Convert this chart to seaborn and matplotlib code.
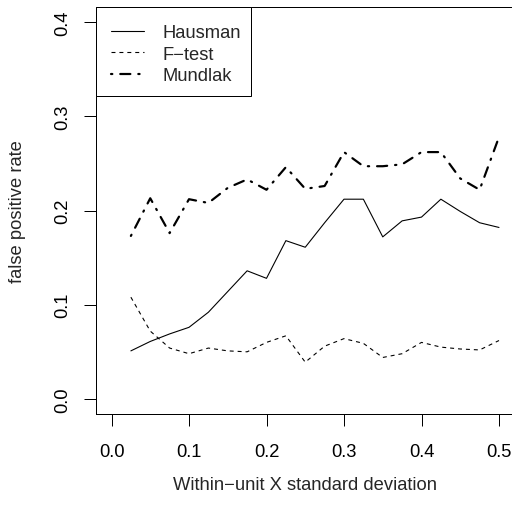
import numpy as np
import pandas as pd
import matplotlib
matplotlib.use("Agg")
import matplotlib.pyplot as plt
from matplotlib.patches import Rectangle
import seaborn as sns

# Within-unit standard deviation of X (simulation grid)
within_sd = [0.025, 0.05, 0.075, 0.1, 0.125, 0.15, 0.175, 0.2, 0.225, 0.25,
             0.275, 0.3, 0.325, 0.35, 0.375, 0.4, 0.425, 0.45, 0.475, 0.5]

# False positive rates by test
hausman = [0.051, 0.061, 0.069, 0.076, 0.092, 0.114, 0.136, 0.128, 0.168, 0.161,
           0.187, 0.212, 0.212, 0.172, 0.189, 0.193, 0.212, 0.199, 0.187, 0.182]
f_test = [0.108, 0.072, 0.054, 0.048, 0.054, 0.051, 0.050, 0.060, 0.067, 0.039,
          0.056, 0.064, 0.059, 0.044, 0.048, 0.060, 0.055, 0.053, 0.052, 0.062]
mundlak = [0.173, 0.213, 0.176, 0.212, 0.208, 0.224, 0.233, 0.222, 0.246, 0.223,
           0.226, 0.262, 0.247, 0.247, 0.249, 0.262, 0.262, 0.234, 0.222, 0.278]

x_ticks = [0.0, 0.1, 0.2, 0.3, 0.4, 0.5]
y_ticks = [0.0, 0.1, 0.2, 0.3, 0.4]

MINUS = "\u2212"
labels = ["Hausman", "F" + MINUS + "test", "Mundlak"]

df = pd.DataFrame({"sd": within_sd, labels[0]: hausman,
                   labels[1]: f_test, labels[2]: mundlak})

sns.set_theme(style="white")
plt.rcParams["font.family"] = ["Liberation Sans", "DejaVu Sans"]
plt.rcParams["font.size"] = 13.2

W, H = 512, 506
AX_L, AX_R, AX_T, AX_B = 96, 514.5, 8, 415
AX_W, AX_H = AX_R - AX_L, AX_B - AX_T
fig = plt.figure(figsize=(W / 100, H / 100), dpi=100)
ax = fig.add_axes([AX_L / W, (H - AX_B) / H, AX_W / W, AX_H / H])

px = 0.72  # one pixel in points at 100 dpi
sns.lineplot(data=df, x="sd", y=labels[0], ax=ax, color="black",
             linewidth=1.1 * px, label=labels[0])
sns.lineplot(data=df, x="sd", y=labels[1], ax=ax, color="black",
             linewidth=1.1 * px, linestyle=(0, (3.6, 3.6)), label=labels[1])
sns.lineplot(data=df, x="sd", y=labels[2], ax=ax, color="black",
             linewidth=2.2 * px, linestyle=(0, (0.6, 3.6, 4.6, 3.6)),
             dash_capstyle="round", label=labels[2])

ax.set_xlim(-0.02, 0.52)
ax.set_ylim(-0.016, 0.416)
ax.set_xticks(x_ticks)
ax.set_yticks(y_ticks)
ax.set_xticklabels([f"{v:.1f}" for v in x_ticks])
ax.set_yticklabels([f"{v:.1f}" for v in y_ticks], rotation=90, va="center")

for side in ["top", "left", "bottom", "right"]:
    ax.spines[side].set_visible(True)
    ax.spines[side].set_color("black")
    ax.spines[side].set_linewidth(1.0 * px)

ax.tick_params(axis="both", which="major", direction="out", length=8.5,
               width=1.0 * px, color="black", labelsize=13.2, labelcolor="black",
               bottom=True, left=True)
ax.tick_params(axis="x", pad=12.5)
ax.tick_params(axis="y", pad=9)

ax.set_xlabel("Within" + MINUS + "unit X standard deviation", fontsize=13.2)
ax.set_ylabel("false positive rate", fontsize=13.2)
ax.xaxis.set_label_coords(0.5, -71 / AX_H)
ax.xaxis.label.set_va("center")
ax.yaxis.set_label_coords(-78 / AX_W, 0.5)
ax.yaxis.label.set_va("center")

# Legend box: drawn as its own rectangle so the padding can be uneven
box_l, box_r, box_t, box_b = 95.5, 250.7, 7.5, 97.3
frame = Rectangle(((box_l - AX_L) / AX_W, (AX_B - box_b) / AX_H),
                  (box_r - box_l) / AX_W, (box_b - box_t) / AX_H,
                  transform=ax.transAxes, facecolor="white", edgecolor="black",
                  linewidth=1.0 * px, clip_on=False, zorder=4)
ax.add_patch(frame)

leg = ax.legend(loc="upper left", bbox_to_anchor=(-0.001, 1.002 - 2 / AX_H),
                borderaxespad=0, frameon=False, handlelength=1.8,
                handletextpad=1.0, borderpad=0.86, labelspacing=0.25,
                fontsize=13.2)
leg.set_zorder(5)

fig.savefig("out.png", dpi=100, facecolor="white")
